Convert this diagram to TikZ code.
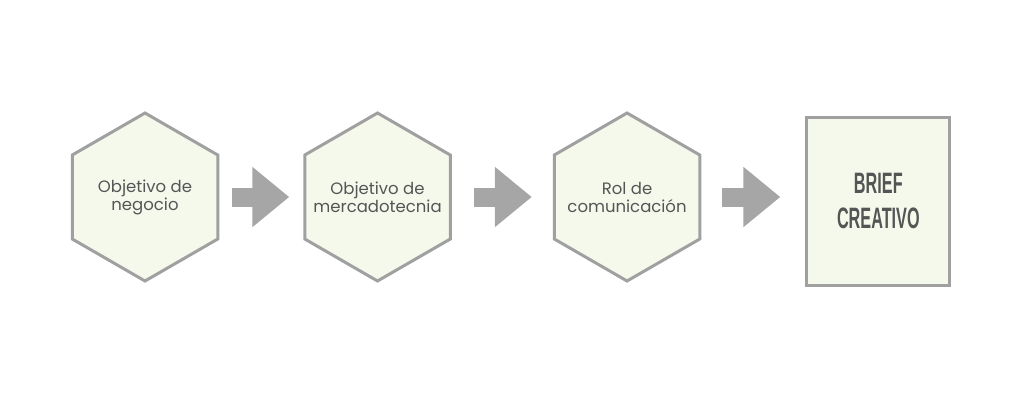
\documentclass[tikz,border=0pt]{standalone}
\usepackage{fontspec}
\setmainfont{Poppins}
\newfontfamily\briefont[FakeStretch=0.55]{Liberation Sans}
\usetikzlibrary{arrows.meta,positioning,shapes.geometric}

\definecolor{hexfill}{HTML}{F4F9EC}
\definecolor{hexline}{HTML}{A0A0A0}
\definecolor{arrowgray}{HTML}{A6A6A6}
\definecolor{textgray}{HTML}{555555}

\tikzset{
  hexbox/.style={regular polygon, regular polygon sides=6, shape border rotate=30,
    minimum size=168pt, inner sep=-30pt, draw=hexline, line width=3pt, fill=hexfill,
    text=textgray, align=center, font=\fontsize{16.5}{18}\selectfont},
  briefbox/.style={rectangle, minimum width=143pt, minimum height=168pt, inner sep=0pt,
    draw=hexline, line width=3pt, fill=hexfill, text=textgray, align=center,
    font=\briefont\bfseries\fontsize{29.5}{35}\selectfont},
  blockarrow/.style={draw=arrowgray, line width=19pt,
    -{Triangle[length=37pt,width=58pt]}}
}

\begin{document}
\begin{tikzpicture}
  \useasboundingbox (0,0) rectangle (1024pt,-400pt);
  \node[hexbox]   (negocio)                                  at (145pt,-197pt) {Objetivo de\\negocio};
  \node[hexbox]   (mercado)  [right=84pt of negocio]         {Objetivo de\\mercadotecnia};
  \node[hexbox]   (rol)      [right=101pt of mercado]        {Rol de\\comunicación};
  \node[briefbox] (brief)    [right=104pt of rol, yshift=-4pt] {BRIEF\\CREATIVO};

  \draw[blockarrow, shorten <=13pt, shorten >=14pt] (negocio.east) -- (mercado.west);
  \draw[blockarrow, shorten <=22pt, shorten >=21pt] (mercado.east) -- (rol.west);
  \draw[blockarrow, shorten <=21pt, shorten >=25pt] (rol.east) -- (rol.east -| brief.west);
\end{tikzpicture}
\end{document}
